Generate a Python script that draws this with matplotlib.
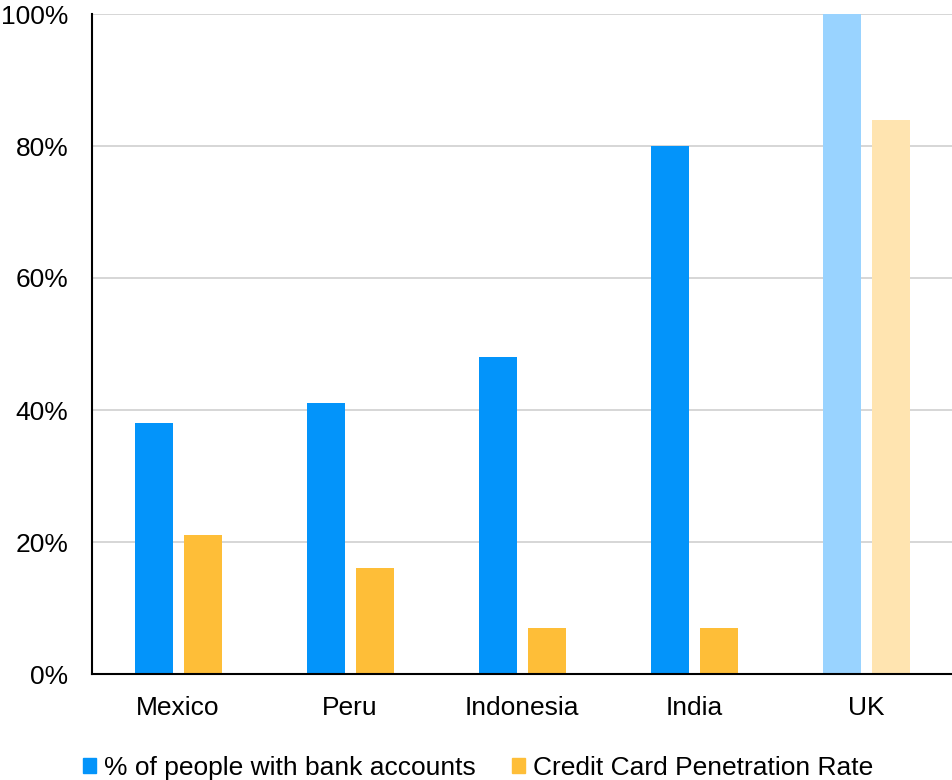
import matplotlib
matplotlib.use("Agg")
import matplotlib.pyplot as plt
import numpy as np
from matplotlib.patches import Patch
from matplotlib.ticker import PercentFormatter

plt.rcParams["font.family"] = ["Liberation Sans", "DejaVu Sans"]

countries = ["Mexico", "Peru", "Indonesia", "India", "UK"]
bank_accounts = [38, 41, 48, 80, 100]
credit_cards = [21, 16, 7, 7, 84]

BLUE = "#0394fa"
ORANGE = "#febe38"
BLUE_LIGHT = "#99d3ff"
ORANGE_LIGHT = "#ffe4b0"

# the last country is the reference point, drawn in paler tones
blue_colors = [BLUE] * (len(countries) - 1) + [BLUE_LIGHT]
orange_colors = [ORANGE] * (len(countries) - 1) + [ORANGE_LIGHT]

fig = plt.figure(figsize=(9.52, 7.8), dpi=100)
ax = fig.add_axes([92 / 952, 106 / 780, 1 - 92 / 952, 660 / 780])

x = np.arange(len(countries))
width = 0.222
ax.bar(x - 0.138, bank_accounts, width, color=blue_colors, zorder=3)
ax.bar(x + 0.146, credit_cards, width, color=orange_colors, zorder=3)

ax.set_xlim(-0.5, len(countries) - 0.5)
ax.set_ylim(0, 100)
ax.set_yticks(range(0, 101, 20))
ax.yaxis.set_major_formatter(PercentFormatter(decimals=0))
ax.set_xticks(x, countries)
ax.tick_params(axis="both", length=0, labelsize=19)
ax.tick_params(axis="x", pad=16)
ax.tick_params(axis="y", pad=17)

ax.grid(axis="y", color="#d0d0d0", linewidth=1.2, zorder=0)
for side in ("top", "right"):
    ax.spines[side].set_visible(False)
for side in ("left", "bottom"):
    ax.spines[side].set_color("black")
    ax.spines[side].set_linewidth(1.5)
    ax.spines[side].set_zorder(4)

handles = [
    Patch(color=BLUE, label="% of people with bank accounts"),
    Patch(color=ORANGE, label="Credit Card Penetration Rate"),
]
fig.legend(
    handles=handles,
    loc="center",
    bbox_to_anchor=(478 / 952, 12 / 780),
    ncol=2,
    frameon=False,
    fontsize=19,
    handlelength=0.5,
    handleheight=0.5,
    handletextpad=0.3,
    columnspacing=1.35,
    borderpad=0.2,
)

fig.savefig("out.png", dpi=100)
